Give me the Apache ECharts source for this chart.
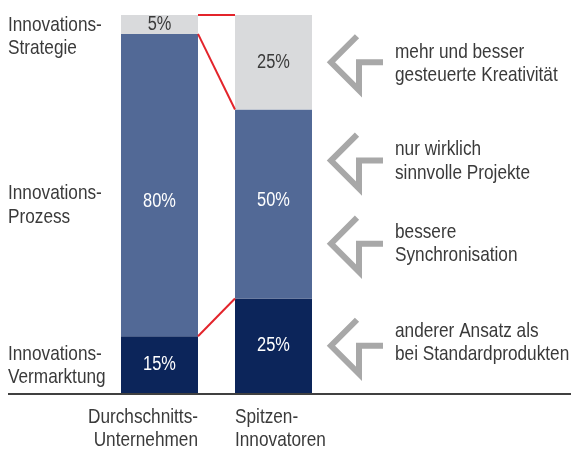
<!DOCTYPE html>
<html><head><meta charset="utf-8">
<script src="https://cdn.jsdelivr.net/npm/echarts@6/dist/echarts.min.js"></script>
<style>html,body{margin:0;padding:0;background:#fff}#c{width:571px;height:449px}</style>
</head><body><div id="c"></div>
<script>
// ---- data ----
const categories = ['Durchschnitts-\nUnternehmen', 'Spitzen-\nInnovatoren'];
const vermarktung = [15, 25];
const prozess = [80, 50];
const strategie = [5, 25];
const stageLabels = ['Innovations-\nStrategie', 'Innovations-\nProzess', 'Innovations-\nVermarktung'];
const stageLabelY = [94.5, 50, 7.5];
const notes = ['mehr und besser\ngesteuerte Kreativität', 'nur wirklich\nsinnvolle Projekte', 'bessere\nSynchronisation', 'anderer Ansatz als\nbei Standardprodukten'];
const noteY = [87.5, 61.5, 39.5, 12.5];

const FONT = '"Liberation Sans", Arial, sans-serif';
const SX = 0.82; // condensed look
const TXT = '#3a3a3a';
const BW = 77;
const segColors = ['#0c255a', '#526996', '#d9dadc'];
const segLabelColors = ['#ffffff', '#ffffff', '#3a3a3a'];
const segLabelNudge = [[0, 0], [16, -4], [0, 0]]; // pixel nudges per series, per bar
const noteTextNudge = [1.5, 0.5, 0, -3]; // pixel nudges of note texts vs arrows

const chart = echarts.init(document.getElementById('c'), null, {renderer: 'canvas'});
const seriesData = [vermarktung, prozess, strategie];

chart.setOption({
  animation: false,
  grid: {left: 102.5, width: 228, top: 15, bottom: 56},
  xAxis: {type: 'category', data: categories, axisLine: {show: false}, axisTick: {show: false}, axisLabel: {show: false}},
  yAxis: {type: 'value', min: 0, max: 100, show: false},
  series: seriesData.map((d, k) => ({type: 'bar', stack: 's', barWidth: BW, data: d, itemStyle: {color: segColors[k]}}))
});

function px(catIdx, val) { return chart.convertToPixel({gridIndex: 0}, [catIdx, val]); }
function txt(x, y, t, size, fill, align, vAlign, lh) {
  return {type: 'text', x: x, y: y, scaleX: SX, z: 20,
    style: {text: t, fontSize: size, fontFamily: FONT, fill: fill, lineHeight: lh || size, verticalAlign: vAlign, align: align}};
}
const g = [];
// baseline
const y0 = px(0, 0)[1];
g.push({type: 'line', shape: {x1: 8, y1: y0 + 1, x2: 571, y2: y0 + 1}, style: {stroke: '#404040', lineWidth: 2}});
// segment labels and red connector lines
const cum = [0, 0];
const x1R = px(0, 0)[0] + BW / 2;
const x2L = px(1, 0)[0] - BW / 2;
seriesData.forEach((d, k) => {
  d.forEach((v, i) => {
    const mid = px(i, cum[i] + v / 2);
    g.push(txt(mid[0], mid[1] + segLabelNudge[k][i], v + '%', 20, segLabelColors[k], 'center', 'middle'));
    cum[i] += v;
  });
  g.push({type: 'line', shape: {x1: x1R, y1: px(0, cum[0])[1], x2: x2L, y2: px(1, cum[1])[1]}, style: {stroke: '#e3242b', lineWidth: 2}, z: 10});
});
// stage labels
stageLabels.forEach((t, i) => {
  g.push(txt(8, px(0, stageLabelY[i])[1] + 1, t, 21, TXT, 'left', 'middle', 23.5));
});
// category labels
g.push(txt(x1R, y0 + 13, categories[0], 21, TXT, 'right', 'top', 23));
g.push(txt(x2L, y0 + 13, categories[1], 21, TXT, 'left', 'top', 23));
// notes with arrows
notes.forEach((t, i) => {
  const cy = px(0, noteY[i])[1];
  const tx = 331;
  const pts = [[tx + 26, cy - 26], [tx, cy], [tx + 28, cy + 28], [tx + 28, cy], [tx + 52, cy]];
  g.push({type: 'polyline', shape: {points: pts}, style: {stroke: '#a8a8a8', lineWidth: 6, fill: null, lineJoin: 'miter', lineCap: 'butt'}});
  g.push(txt(395, cy + noteTextNudge[i], t, 21, TXT, 'left', 'middle', 23.5));
});
chart.setOption({graphic: g});
</script>
</body></html>
